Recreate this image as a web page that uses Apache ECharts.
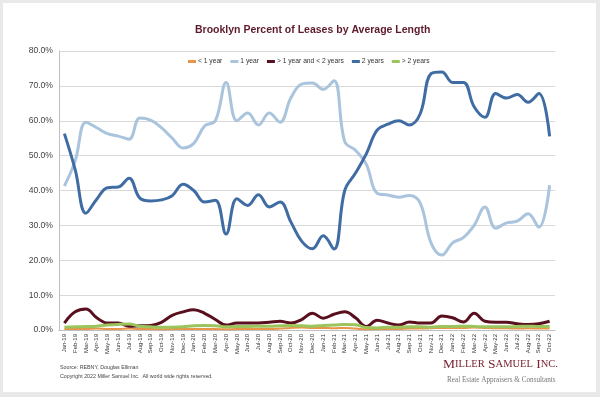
<!DOCTYPE html>
<html lang="en">
<head>
    <meta charset="UTF-8">
    <title>Brooklyn Percent of Leases by Average Length</title>
    <script src="https://cdn.jsdelivr.net/npm/echarts@6/dist/echarts.min.js"></script>
    <style>
        body { margin: 0; background: #e9e9e9; }
    </style>
</head>
<body>
<div id="box" style="width: 600px;height: 397px;"></div>
<script>
    var months = ['Jan-19','Feb-19','Mar-19','Apr-19','May-19','Jun-19','Jul-19','Aug-19','Sep-19','Oct-19','Nov-19','Dec-19',
        'Jan-20','Feb-20','Mar-20','Apr-20','May-20','Jun-20','Jul-20','Aug-20','Sep-20','Oct-20','Nov-20','Dec-20',
        'Jan-21','Feb-21','Mar-21','Apr-21','May-21','Jun-21','Jul-21','Aug-21','Sep-21','Oct-21','Nov-21','Dec-21',
        'Jan-22','Feb-22','Mar-22','Apr-22','May-22','Jun-22','Jul-22','Aug-22','Sep-22','Oct-22'];

    var lessOneYear = [0.3,0.3,0.3,0.4,0.3,0.3,0.4,0.3,0.3,0.2,0.3,0.3,0.3,0.3,0.3,0.2,0.3,0.3,0.3,0.3,0.4,0.6,0.7,0.6,
        0.6,0.5,0.6,0.4,0.2,0.3,0.3,0.3,0.4,0.4,0.5,0.6,0.6,0.6,0.7,0.6,0.5,0.5,0.4,0.5,0.4,0.4];
    var oneYear = [41.3,48.5,59.6,58.0,56.3,55.6,54.7,60.8,60.2,58.0,55.0,52.2,53.5,58.5,60.0,71.0,60.0,62.2,58.8,62.2,59.6,66.5,70.5,70.8,
        69.0,71.5,54.0,51.5,47.5,39.2,38.7,38.1,38.6,36.4,25.0,21.5,25.0,26.5,30.0,35.3,29.2,30.7,31.2,33.3,29.5,41.5];
    var oneToTwo = [2.0,5.2,6.0,3.5,2.0,2.0,1.1,1.2,1.3,2.2,4.2,5.2,5.8,4.8,3.0,1.4,2.0,2.0,2.0,2.2,2.5,2.0,3.0,4.8,
        3.4,4.5,5.2,3.5,1.0,2.8,2.0,1.4,2.3,2.0,2.0,4.0,3.5,2.3,4.8,2.5,2.2,2.2,1.8,1.6,1.8,2.5];
    var twoYears = [56.3,46.0,33.5,37.5,40.8,41.0,43.5,37.8,37.0,37.3,38.5,41.8,40.0,36.7,37.2,27.5,37.6,35.7,38.8,35.3,36.7,31.0,25.5,23.3,
        27.0,23.2,40.0,45.0,50.5,57.3,59.0,60.0,58.8,62.0,73.5,74.0,71.0,71.0,64.0,61.0,67.8,66.5,67.5,65.3,67.8,55.5];
    var moreTwoYears = [0.8,0.9,1.0,1.1,1.4,1.6,1.7,1.1,0.9,0.8,0.8,0.9,1.2,1.3,1.2,0.9,1.0,1.0,1.1,1.1,1.2,1.3,1.2,1.1,
        1.3,1.4,1.6,1.5,0.7,0.6,0.8,0.8,0.9,0.9,0.8,1.0,1.0,1.1,1.0,0.9,0.9,0.9,1.0,1.1,1.0,1.0];

    var myChart = echarts.init(document.getElementById('box'));

    function line(name, data, color, width) {
        return {
            name: name,
            type: 'line',
            data: data,
            smooth: 0.4,
            showSymbol: false,
            lineStyle: { color: color, width: width },
            itemStyle: { color: color }
        };
    }

    var option = {
        backgroundColor: '#e9e9e9',
        animation: false,
        textStyle: { fontFamily: 'Liberation Sans, Arial, sans-serif' },
        title: {
            text: 'Brooklyn Percent of Leases by Average Length',
            left: 190,
            top: 20,
            textStyle: { fontSize: 10.5, fontWeight: 'bold', color: '#5e1a2b' }
        },
        legend: {
            left: 188,
            top: 58,
            padding: 0,
            icon: 'rect',
            itemWidth: 8,
            itemHeight: 3,
            itemGap: 8,
            textStyle: { fontSize: 6.7, color: '#333', padding: [0, 0, 0, -3] }
        },
        grid: { left: 59, right: 45, top: 51, bottom: 67 },
        xAxis: {
            type: 'category',
            data: months,
            boundaryGap: true,
            axisLine: { lineStyle: { color: '#bfbfbf' } },
            axisTick: { show: false },
            axisLabel: { rotate: 90, fontSize: 6, color: '#333', interval: 0, margin: 4 }
        },
        yAxis: {
            type: 'value',
            min: 0,
            max: 80,
            interval: 10,
            axisLine: { show: true, lineStyle: { color: '#bfbfbf' } },
            axisTick: { show: false },
            splitLine: { lineStyle: { color: '#d9d9d9' } },
            axisLabel: {
                fontSize: 8.6,
                color: '#444',
                margin: 6,
                formatter: function (v) { return v.toFixed(1) + '%'; }
            }
        },
        graphic: [
            {
                type: 'rect', z: -10, silent: true,
                shape: { x: 3, y: 3, width: 593, height: 389 },
                style: { fill: '#ffffff' }
            },
            {
                type: 'text', left: 60, top: 365,
                style: { text: 'Source: REBNY, Douglas Elliman', fontSize: 5.3, fill: '#444', fontFamily: 'Liberation Sans' }
            },
            {
                type: 'text', left: 60, top: 374,
                style: { text: 'Copyright 2022 Miller Samuel Inc.  All world wide rights reserved.', fontSize: 5.3, fill: '#444', fontFamily: 'Liberation Sans' }
            },
            {
                type: 'text', left: 443, top: 357,
                style: {
                    text: '{b|M}{s|ILLER} {b|S}{s|AMUEL} {b|I}{s|NC.}',
                    rich: {
                        b: { fontSize: 13.5, fontFamily: 'Liberation Serif', fill: '#7a2232', color: '#7a2232' },
                        s: { fontSize: 10.5, fontFamily: 'Liberation Serif', fill: '#7a2232', color: '#7a2232' }
                    }
                }
            },
            {
                type: 'text', left: 447, top: 377,
                style: { text: 'Real Estate Appraisers & Consultants', fontSize: 7.2, fill: '#777', fontFamily: 'Liberation Serif' }
            }
        ],
        series: [
            line('< 1 year', lessOneYear, '#e8954a', 2),
            line('1 year', oneYear, '#a9c4dc', 3),
            line('> 1 year and < 2 years', oneToTwo, '#5a0f1e', 3),
            line('2 years', twoYears, '#3f6ca3', 3),
            line('> 2 years', moreTwoYears, '#9cc45c', 3)
        ]
    };
    myChart.setOption(option);
</script>
</body>
</html>
